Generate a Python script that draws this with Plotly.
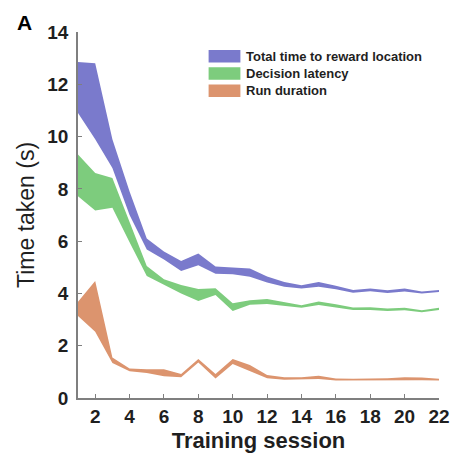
import plotly.graph_objects as go

# Training sessions on the x axis
sessions = list(range(1, 23))

# Band limits (seconds) for each measure, per session
total_upper = [12.85, 12.8, 9.9, 7.9, 6.1, 5.6, 5.24, 5.53, 5.03, 4.99, 4.95, 4.65,
               4.44, 4.31, 4.44, 4.29, 4.13, 4.19, 4.12, 4.19, 4.07, 4.13]
total_lower = [10.9, 9.9, 8.8, 7.0, 5.68, 5.3, 4.86, 5.08, 4.75, 4.73, 4.64, 4.42,
               4.26, 4.19, 4.26, 4.16, 4.03, 4.08, 4.02, 4.07, 4.0, 4.05]

decision_upper = [9.31, 8.61, 8.42, 6.76, 5.05, 4.54, 4.32, 4.17, 4.2, 3.62, 3.74, 3.79,
                  3.68, 3.55, 3.69, 3.59, 3.46, 3.47, 3.42, 3.45, 3.36, 3.45]
decision_lower = [7.72, 7.17, 7.28, 5.96, 4.67, 4.35, 4.0, 3.71, 3.94, 3.33, 3.57, 3.6,
                  3.53, 3.45, 3.56, 3.46, 3.37, 3.37, 3.33, 3.36, 3.28, 3.37]

run_upper = [3.68, 4.48, 1.55, 1.13, 1.1, 1.1, 0.92, 1.49, 0.92, 1.49, 1.26, 0.88,
             0.79, 0.79, 0.85, 0.75, 0.74, 0.74, 0.76, 0.79, 0.78, 0.74]
run_lower = [3.14, 2.53, 1.34, 1.02, 0.96, 0.83, 0.79, 1.36, 0.75, 1.3, 1.04, 0.76,
             0.7, 0.71, 0.73, 0.67, 0.67, 0.67, 0.67, 0.68, 0.68, 0.67]

series_names = ["Total time to reward location", "Decision latency", "Run duration"]
series_colors = ["#7a7acc", "#7dcc7d", "#dc946e"]
bands = [(total_upper, total_lower), (decision_upper, decision_lower), (run_upper, run_lower)]

x_ticks = list(range(2, 23, 2))
y_ticks = list(range(0, 15, 2))

FONT = "Liberation Sans, Arial, sans-serif"
TEXT = "#1f1f1f"
AXIS = "#7f7f7f"

fig = go.Figure()
for name, color, (up, lo) in zip(series_names, series_colors, bands):
    fig.add_trace(go.Scatter(
        x=sessions + sessions[::-1],
        y=up + lo[::-1],
        fill="toself",
        fillcolor=color,
        line=dict(width=0, color=color),
        mode="lines",
        name=name,
        hoverinfo="skip",
        showlegend=False,
    ))

# Plot area geometry in pixels (used to place the legend boxes)
W, H = 462, 461
ml, mr, mt, mb = 78, 15, 32, 62
pw, ph = W - ml - mr, H - mt - mb

def px_x(px):
    return (px - ml) / pw

def px_y(py):
    return (H - mb - py) / ph

legend_rows = [56.3, 73.7, 90.9]
shapes = []
annotations = []
for name, color, cy in zip(series_names, series_colors, legend_rows):
    shapes.append(dict(type="rect", xref="paper", yref="paper",
                       x0=px_x(211.5), x1=px_x(244), y0=px_y(cy + 6.3), y1=px_y(cy - 6.3),
                       fillcolor=color, line=dict(width=0)))
    annotations.append(dict(xref="paper", yref="paper", x=px_x(248), y=px_y(cy),
                            xanchor="left", yanchor="middle", showarrow=False,
                            text=name, font=dict(family=FONT, size=13, color=TEXT, weight="bold")))

annotations.append(dict(xref="paper", yref="paper", x=px_x(23), y=px_y(22),
                        xanchor="center", yanchor="middle", showarrow=False,
                        text="A", font=dict(family=FONT, size=21, color="#000000", weight="bold")))

fig.update_layout(
    width=W, height=H,
    margin=dict(l=ml, r=mr, t=mt, b=mb, pad=0),
    paper_bgcolor="white", plot_bgcolor="white",
    showlegend=False,
    shapes=shapes,
    annotations=annotations,
    font=dict(family=FONT, color=TEXT),
)
fig.update_xaxes(
    range=[1, 22], tickvals=x_ticks, ticktext=[str(v) for v in x_ticks],
    ticks="inside", ticklen=4, tickwidth=1, tickcolor=AXIS,
    showline=True, linecolor=AXIS, linewidth=1.5,
    showgrid=False, zeroline=False,
    tickfont=dict(family=FONT, size=19, color=TEXT, weight="bold"),
    title=dict(text="Training session", standoff=7,
               font=dict(family=FONT, size=22, color=TEXT, weight="bold")),
)
fig.update_yaxes(
    range=[0, 14], tickvals=y_ticks, ticktext=[str(v) for v in y_ticks],
    ticks="inside", ticklen=4, tickwidth=1, tickcolor=AXIS,
    showline=True, linecolor=AXIS, linewidth=1.5,
    showgrid=False, zeroline=False,
    ticklabelstandoff=4,
    tickfont=dict(family=FONT, size=19, color=TEXT, weight="bold"),
    title=dict(text="Time taken (s)", standoff=6,
               font=dict(family=FONT, size=23, color=TEXT)),
)

fig.write_html("out.html")
